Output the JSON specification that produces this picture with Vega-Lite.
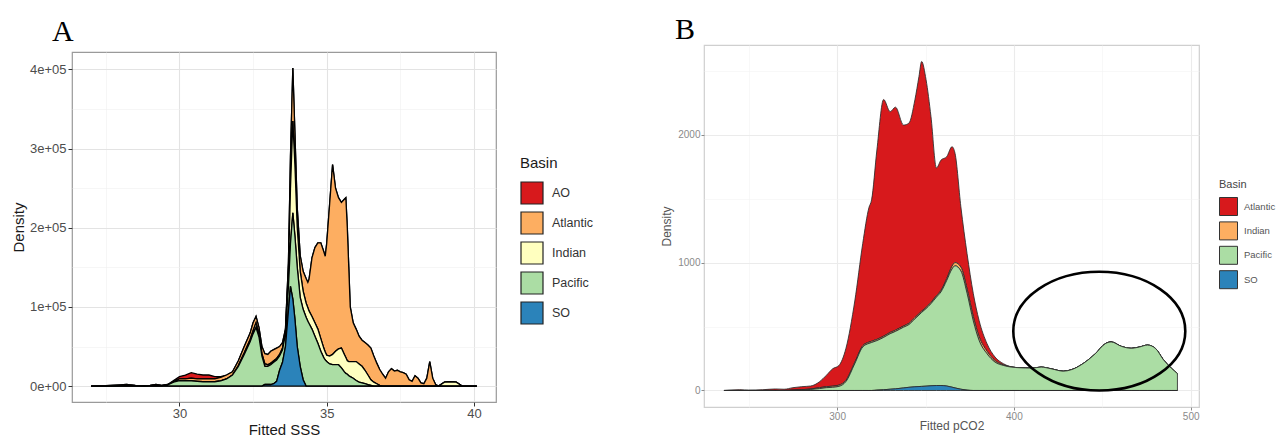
{
  "$schema": "https://vega.github.io/schema/vega-lite/v6.json",
  "background": "white",
  "padding": {"left": 10, "top": 0, "right": 0, "bottom": 0},
  "config": {"font": "Liberation Sans", "view": {"stroke": null}},
  "spacing": 66,
  "resolve": {"scale": {"x": "independent", "y": "independent", "color": "independent"}, "legend": {"color": "independent"}},
  "hconcat": [
    {
      "spacing": 0,
      "resolve": {"scale": {"x": "independent", "y": "independent", "color": "independent"}, "legend": {"color": "independent"}},
      "vconcat": [
        {"width": 1, "height": 16, "view": {"fill": "white", "stroke": null}, "data": {"values": []}, "mark": "rule", "encoding": {}},
        {
          "width": 424,
          "height": 350,
          "view": {"stroke": "#9a9a9a", "strokeWidth": 1.2},
          "title": {"text": "A", "anchor": "start", "frame": "group", "font": "Liberation Serif", "fontSize": 30, "fontWeight": "normal", "color": "#000000", "baseline": "alphabetic", "offset": 0, "dy": 19, "dx": -20},
          "data": {"values": [
            {"SSS":27.0,"AO":0,"Atlantic":0,"Indian":0,"Pacific":0,"SO":0},
            {"SSS":27.5,"AO":0,"Atlantic":500,"Indian":0,"Pacific":0,"SO":0},
            {"SSS":28.0,"AO":0,"Atlantic":1000,"Indian":0,"Pacific":500,"SO":0},
            {"SSS":28.2,"AO":0,"Atlantic":1500,"Indian":0,"Pacific":500,"SO":0},
            {"SSS":28.5,"AO":0,"Atlantic":500,"Indian":0,"Pacific":500,"SO":0},
            {"SSS":28.8,"AO":0,"Atlantic":500,"Indian":0,"Pacific":0,"SO":0},
            {"SSS":29.0,"AO":0,"Atlantic":500,"Indian":0,"Pacific":500,"SO":0},
            {"SSS":29.2,"AO":0,"Atlantic":1000,"Indian":0,"Pacific":1000,"SO":0},
            {"SSS":29.4,"AO":0,"Atlantic":500,"Indian":0,"Pacific":500,"SO":0},
            {"SSS":29.6,"AO":0,"Atlantic":500,"Indian":0,"Pacific":1500,"SO":0},
            {"SSS":29.8,"AO":1000,"Atlantic":1000,"Indian":0,"Pacific":5000,"SO":0},
            {"SSS":30.0,"AO":3000,"Atlantic":2000,"Indian":0,"Pacific":7000,"SO":0},
            {"SSS":30.2,"AO":5000,"Atlantic":2500,"Indian":0,"Pacific":6500,"SO":0},
            {"SSS":30.4,"AO":7000,"Atlantic":3500,"Indian":0,"Pacific":6500,"SO":0},
            {"SSS":30.6,"AO":6000,"Atlantic":3000,"Indian":0,"Pacific":6000,"SO":0},
            {"SSS":30.8,"AO":5000,"Atlantic":3500,"Indian":0,"Pacific":5500,"SO":0},
            {"SSS":31.0,"AO":5000,"Atlantic":3500,"Indian":0,"Pacific":5500,"SO":0},
            {"SSS":31.2,"AO":3000,"Atlantic":3500,"Indian":0,"Pacific":5500,"SO":0},
            {"SSS":31.4,"AO":1000,"Atlantic":4500,"Indian":0,"Pacific":6500,"SO":0},
            {"SSS":31.6,"AO":0,"Atlantic":5000,"Indian":0,"Pacific":9000,"SO":0},
            {"SSS":31.8,"AO":0,"Atlantic":4000,"Indian":0,"Pacific":14000,"SO":0},
            {"SSS":32.0,"AO":0,"Atlantic":6000,"Indian":1000,"Pacific":25000,"SO":0},
            {"SSS":32.2,"AO":0,"Atlantic":8000,"Indian":2000,"Pacific":40000,"SO":0},
            {"SSS":32.4,"AO":0,"Atlantic":8000,"Indian":3000,"Pacific":56000,"SO":0},
            {"SSS":32.5,"AO":0,"Atlantic":10000,"Indian":4000,"Pacific":66000,"SO":0},
            {"SSS":32.6,"AO":0,"Atlantic":8000,"Indian":6000,"Pacific":74000,"SO":0},
            {"SSS":32.7,"AO":0,"Atlantic":8000,"Indian":4000,"Pacific":62000,"SO":0},
            {"SSS":32.8,"AO":0,"Atlantic":9000,"Indian":3000,"Pacific":38000,"SO":0},
            {"SSS":32.9,"AO":0,"Atlantic":13000,"Indian":3000,"Pacific":23000,"SO":2000},
            {"SSS":33.0,"AO":0,"Atlantic":13000,"Indian":2000,"Pacific":23000,"SO":2000},
            {"SSS":33.1,"AO":0,"Atlantic":15000,"Indian":2000,"Pacific":25000,"SO":2000},
            {"SSS":33.2,"AO":0,"Atlantic":14000,"Indian":2000,"Pacific":27000,"SO":3000},
            {"SSS":33.3,"AO":0,"Atlantic":13000,"Indian":2000,"Pacific":27000,"SO":6000},
            {"SSS":33.4,"AO":0,"Atlantic":10000,"Indian":2000,"Pacific":18000,"SO":20000},
            {"SSS":33.5,"AO":0,"Atlantic":7000,"Indian":2000,"Pacific":16000,"SO":30000},
            {"SSS":33.6,"AO":0,"Atlantic":2000,"Indian":4000,"Pacific":16000,"SO":50000},
            {"SSS":33.7,"AO":0,"Atlantic":10000,"Indian":20000,"Pacific":30000,"SO":95000},
            {"SSS":33.77,"AO":0,"Atlantic":40000,"Indian":70000,"Pacific":54000,"SO":126000},
            {"SSS":33.85,"AO":0,"Atlantic":67000,"Indian":116000,"Pacific":109000,"SO":110000},
            {"SSS":33.92,"AO":0,"Atlantic":40000,"Indian":90000,"Pacific":105000,"SO":85000},
            {"SSS":34.0,"AO":0,"Atlantic":25000,"Indian":50000,"Pacific":100000,"SO":50000},
            {"SSS":34.1,"AO":0,"Atlantic":20000,"Indian":33000,"Pacific":87000,"SO":25000},
            {"SSS":34.2,"AO":0,"Atlantic":25000,"Indian":23000,"Pacific":89000,"SO":8000},
            {"SSS":34.3,"AO":0,"Atlantic":31000,"Indian":18000,"Pacific":87000,"SO":0},
            {"SSS":34.36,"AO":0,"Atlantic":32000,"Indian":17000,"Pacific":82000,"SO":0},
            {"SSS":34.4,"AO":0,"Atlantic":40000,"Indian":16000,"Pacific":79000,"SO":0},
            {"SSS":34.5,"AO":0,"Atlantic":74000,"Indian":16000,"Pacific":72000,"SO":0},
            {"SSS":34.6,"AO":0,"Atlantic":95000,"Indian":17000,"Pacific":63000,"SO":0},
            {"SSS":34.7,"AO":0,"Atlantic":109000,"Indian":18000,"Pacific":54000,"SO":0},
            {"SSS":34.8,"AO":0,"Atlantic":121000,"Indian":16000,"Pacific":44000,"SO":0},
            {"SSS":34.9,"AO":0,"Atlantic":122000,"Indian":12000,"Pacific":36000,"SO":0},
            {"SSS":34.95,"AO":0,"Atlantic":121000,"Indian":10000,"Pacific":33000,"SO":0},
            {"SSS":35.0,"AO":0,"Atlantic":141000,"Indian":8000,"Pacific":31000,"SO":0},
            {"SSS":35.1,"AO":0,"Atlantic":192000,"Indian":10000,"Pacific":28000,"SO":0},
            {"SSS":35.2,"AO":0,"Atlantic":240000,"Indian":13000,"Pacific":27000,"SO":0},
            {"SSS":35.3,"AO":0,"Atlantic":206000,"Indian":17000,"Pacific":27000,"SO":0},
            {"SSS":35.4,"AO":0,"Atlantic":191000,"Indian":20000,"Pacific":27000,"SO":0},
            {"SSS":35.5,"AO":0,"Atlantic":184000,"Indian":25000,"Pacific":23000,"SO":0},
            {"SSS":35.6,"AO":0,"Atlantic":196000,"Indian":22000,"Pacific":18000,"SO":0},
            {"SSS":35.65,"AO":0,"Atlantic":202000,"Indian":20000,"Pacific":16000,"SO":0},
            {"SSS":35.7,"AO":0,"Atlantic":168000,"Indian":17000,"Pacific":15000,"SO":0},
            {"SSS":35.75,"AO":0,"Atlantic":119000,"Indian":18000,"Pacific":13000,"SO":0},
            {"SSS":35.8,"AO":0,"Atlantic":69000,"Indian":19000,"Pacific":12000,"SO":0},
            {"SSS":35.9,"AO":0,"Atlantic":49000,"Indian":21000,"Pacific":10000,"SO":0},
            {"SSS":36.0,"AO":0,"Atlantic":41000,"Indian":24000,"Pacific":7000,"SO":0},
            {"SSS":36.1,"AO":0,"Atlantic":35000,"Indian":23000,"Pacific":5000,"SO":0},
            {"SSS":36.2,"AO":0,"Atlantic":33000,"Indian":21000,"Pacific":4000,"SO":0},
            {"SSS":36.3,"AO":0,"Atlantic":35000,"Indian":17000,"Pacific":3000,"SO":0},
            {"SSS":36.4,"AO":0,"Atlantic":38000,"Indian":12000,"Pacific":2000,"SO":0},
            {"SSS":36.5,"AO":0,"Atlantic":40000,"Indian":7000,"Pacific":1000,"SO":0},
            {"SSS":36.6,"AO":0,"Atlantic":33000,"Indian":5000,"Pacific":0,"SO":0},
            {"SSS":36.7,"AO":0,"Atlantic":26000,"Indian":3000,"Pacific":0,"SO":0},
            {"SSS":36.8,"AO":0,"Atlantic":20000,"Indian":1000,"Pacific":0,"SO":0},
            {"SSS":36.9,"AO":0,"Atlantic":15000,"Indian":0,"Pacific":0,"SO":0},
            {"SSS":37.0,"AO":0,"Atlantic":10000,"Indian":0,"Pacific":0,"SO":0},
            {"SSS":37.1,"AO":0,"Atlantic":18000,"Indian":0,"Pacific":0,"SO":0},
            {"SSS":37.2,"AO":0,"Atlantic":22000,"Indian":0,"Pacific":0,"SO":0},
            {"SSS":37.3,"AO":0,"Atlantic":19000,"Indian":0,"Pacific":0,"SO":0},
            {"SSS":37.4,"AO":0,"Atlantic":20000,"Indian":0,"Pacific":0,"SO":0},
            {"SSS":37.5,"AO":0,"Atlantic":18000,"Indian":0,"Pacific":0,"SO":0},
            {"SSS":37.6,"AO":0,"Atlantic":17000,"Indian":0,"Pacific":0,"SO":0},
            {"SSS":37.7,"AO":0,"Atlantic":15000,"Indian":0,"Pacific":0,"SO":0},
            {"SSS":37.8,"AO":0,"Atlantic":8000,"Indian":0,"Pacific":0,"SO":0},
            {"SSS":37.9,"AO":0,"Atlantic":6000,"Indian":0,"Pacific":0,"SO":0},
            {"SSS":38.0,"AO":0,"Atlantic":13000,"Indian":0,"Pacific":0,"SO":0},
            {"SSS":38.1,"AO":0,"Atlantic":10000,"Indian":0,"Pacific":0,"SO":0},
            {"SSS":38.2,"AO":0,"Atlantic":4000,"Indian":0,"Pacific":0,"SO":0},
            {"SSS":38.3,"AO":0,"Atlantic":3000,"Indian":0,"Pacific":0,"SO":0},
            {"SSS":38.4,"AO":0,"Atlantic":10000,"Indian":0,"Pacific":0,"SO":0},
            {"SSS":38.5,"AO":0,"Atlantic":31000,"Indian":0,"Pacific":0,"SO":0},
            {"SSS":38.6,"AO":0,"Atlantic":10000,"Indian":0,"Pacific":0,"SO":0},
            {"SSS":38.7,"AO":0,"Atlantic":2000,"Indian":0,"Pacific":0,"SO":0},
            {"SSS":38.8,"AO":0,"Atlantic":0,"Indian":0,"Pacific":0,"SO":0},
            {"SSS":39.0,"AO":0,"Atlantic":0,"Indian":5000,"Pacific":0,"SO":0},
            {"SSS":39.2,"AO":0,"Atlantic":0,"Indian":5500,"Pacific":0,"SO":0},
            {"SSS":39.4,"AO":0,"Atlantic":0,"Indian":5000,"Pacific":0,"SO":0},
            {"SSS":39.6,"AO":0,"Atlantic":0,"Indian":0,"Pacific":0,"SO":0},
            {"SSS":40.1,"AO":0,"Atlantic":0,"Indian":0,"Pacific":0,"SO":0}
          ]},
          "transform": [{"fold": ["AO", "Atlantic", "Indian", "Pacific", "SO"], "as": ["Basin", "Density"]}],
          "mark": {"type": "area", "stroke": "#000000", "strokeWidth": 1.3, "interpolate": "linear"},
          "encoding": {
            "x": {
              "field": "SSS", "type": "quantitative",
              "scale": {"domain": [26.35, 40.75], "nice": false, "zero": false},
              "axis": {
                "title": "Fitted SSS", "values": [27.5, 30, 32.5, 35, 37.5, 40],
                "labelExpr": "datum.value % 5 == 0 ? format(datum.value, 'd') : ''",
                "domain": false, "tickColor": "#333333", "tickSize": 4, "tickWidth": 1,
                "tickOpacity": {"condition": {"test": "datum.value % 5 == 0", "value": 1}, "value": 0},
                "labelFontSize": 13, "labelColor": "#4d4d4d", "labelPadding": 1,
                "titleFontSize": 15, "titleColor": "#1a1a1a", "titleFontWeight": "normal", "titlePadding": 2,
                "gridColor": {"condition": {"test": "datum.value % 5 == 0", "value": "#e3e3e3"}, "value": "#f0f0f0"},
                "gridWidth": {"condition": {"test": "datum.value % 5 == 0", "value": 1.1}, "value": 0.6}
              }
            },
            "y": {
              "field": "Density", "type": "quantitative",
              "scale": {"domain": [-20100, 422100], "nice": false, "zero": false},
              "axis": {
                "title": "Density", "values": [0, 50000, 100000, 150000, 200000, 250000, 300000, 350000, 400000],
                "labelExpr": "datum.value % 100000 == 0 ? replace(format(datum.value, '.0e'), 'e+', 'e+0') : ''",
                "domain": false, "tickColor": "#333333", "tickSize": 4, "tickWidth": 1,
                "tickOpacity": {"condition": {"test": "datum.value % 100000 == 0", "value": 1}, "value": 0},
                "labelFontSize": 13, "labelColor": "#4d4d4d", "labelPadding": 2,
                "titleFontSize": 15, "titleColor": "#1a1a1a", "titleFontWeight": "normal", "titlePadding": 3,
                "gridColor": {"condition": {"test": "datum.value % 100000 == 0", "value": "#e3e3e3"}, "value": "#f0f0f0"},
                "gridWidth": {"condition": {"test": "datum.value % 100000 == 0", "value": 1.1}, "value": 0.6}
              }
            },
            "color": {
              "field": "Basin", "type": "nominal",
              "scale": {"domain": ["AO", "Atlantic", "Indian", "Pacific", "SO"], "range": ["#D7191C", "#FDAE61", "#FFFFBF", "#ABDDA4", "#2B83BA"]},
              "legend": {
                "orient": "none", "legendX": 448, "legendY": 104, "padding": 0,
                "title": "Basin", "titleFontSize": 15, "titleFontWeight": "normal", "titleColor": "#1a1a1a", "titlePadding": 10,
                "labelFontSize": 12.5, "labelColor": "#333333", "labelOffset": 8,
                "symbolType": "square", "symbolSize": 484, "symbolStrokeColor": "#222222", "symbolStrokeWidth": 1.2, "symbolOpacity": 1,
                "rowPadding": 2
              }
            },
            "order": {"field": "Basin", "type": "ordinal", "sort": "descending"}
          }
        }
      ]
    },
    {
      "spacing": 0,
      "resolve": {"scale": {"x": "independent", "y": "independent", "color": "independent"}, "legend": {"color": "independent"}},
      "vconcat": [
        {"width": 1, "height": 13.5, "view": {"fill": "white", "stroke": null}, "data": {"values": []}, "mark": "rule", "encoding": {}},
        {
          "width": 495,
          "height": 362,
          "view": {"stroke": "#cfcfcf", "strokeWidth": 1.2},
          "title": {"text": "B", "anchor": "start", "frame": "group", "font": "Liberation Serif", "fontSize": 30, "fontWeight": "normal", "color": "#000000", "baseline": "alphabetic", "offset": 0, "dy": 23.7, "dx": -29},
          "encoding": {
            "x": {
              "field": "pCO2", "type": "quantitative",
              "scale": {"domain": [224.7, 504.7], "nice": false, "zero": false},
              "axis": {
                "title": "Fitted pCO2", "values": [250, 300, 350, 400, 450, 500],
                "labelExpr": "datum.value % 100 == 0 ? format(datum.value, 'd') : ''",
                "domain": false, "tickColor": "#8a8a8a", "tickSize": 3, "tickWidth": 1,
                "tickOpacity": {"condition": {"test": "datum.value % 100 == 0", "value": 1}, "value": 0},
                "labelFontSize": 10, "labelColor": "#8a8a8a", "labelPadding": 1,
                "titleFontSize": 12, "titleColor": "#555555", "titleFontWeight": "normal", "titlePadding": -1,
                "gridColor": {"condition": {"test": "datum.value % 100 == 0", "value": "#ebebeb"}, "value": "#f4f4f4"},
                "gridWidth": {"condition": {"test": "datum.value % 100 == 0", "value": 1.1}, "value": 0.6}
              }
            },
            "y": {
              "field": "Density", "type": "quantitative",
              "scale": {"domain": [-129, 2701], "nice": false, "zero": false},
              "axis": {
                "title": "Density", "values": [0, 500, 1000, 1500, 2000, 2500],
                "labelExpr": "datum.value % 1000 == 0 ? format(datum.value, 'd') : ''",
                "domain": false, "tickColor": "#8a8a8a", "tickSize": 3, "tickWidth": 1,
                "tickOpacity": {"condition": {"test": "datum.value % 1000 == 0", "value": 1}, "value": 0},
                "labelFontSize": 10, "labelColor": "#8a8a8a", "labelPadding": 1,
                "titleFontSize": 12, "titleColor": "#555555", "titleFontWeight": "normal", "titlePadding": 4,
                "gridColor": {"condition": {"test": "datum.value % 1000 == 0", "value": "#ebebeb"}, "value": "#f4f4f4"},
                "gridWidth": {"condition": {"test": "datum.value % 1000 == 0", "value": 1.1}, "value": 0.6}
              }
            }
          },
          "layer": [
            {
              "data": {"values": [
                {"pCO2":236,"Atlantic":0,"Indian":0,"Pacific":0,"SO":0},
                {"pCO2":245,"Atlantic":6,"Indian":0,"Pacific":0,"SO":0},
                {"pCO2":250,"Atlantic":3,"Indian":0,"Pacific":0,"SO":0},
                {"pCO2":258,"Atlantic":6,"Indian":0,"Pacific":0,"SO":0},
                {"pCO2":265,"Atlantic":12,"Indian":0,"Pacific":0,"SO":0},
                {"pCO2":270,"Atlantic":10,"Indian":0,"Pacific":0,"SO":0},
                {"pCO2":275,"Atlantic":19,"Indian":1,"Pacific":2,"SO":0},
                {"pCO2":280,"Atlantic":24,"Indian":2,"Pacific":4,"SO":0},
                {"pCO2":285,"Atlantic":23,"Indian":4,"Pacific":8,"SO":0},
                {"pCO2":290,"Atlantic":46,"Indian":7,"Pacific":15,"SO":0},
                {"pCO2":294,"Atlantic":90,"Indian":8,"Pacific":22,"SO":0},
                {"pCO2":297.5,"Atlantic":136,"Indian":9,"Pacific":25,"SO":0},
                {"pCO2":301,"Atlantic":153,"Indian":10,"Pacific":32,"SO":0},
                {"pCO2":305,"Atlantic":250,"Indian":10,"Pacific":70,"SO":0},
                {"pCO2":310,"Atlantic":480,"Indian":10,"Pacific":210,"SO":0},
                {"pCO2":314.5,"Atlantic":800,"Indian":10,"Pacific":340,"SO":0},
                {"pCO2":318,"Atlantic":1052,"Indian":10,"Pacific":368,"SO":0},
                {"pCO2":319.5,"Atlantic":1105,"Indian":10,"Pacific":375,"SO":0},
                {"pCO2":322.5,"Atlantic":1480,"Indian":10,"Pacific":387,"SO":3},
                {"pCO2":326.3,"Atlantic":1850,"Indian":10,"Pacific":409,"SO":6},
                {"pCO2":330,"Atlantic":1726,"Indian":10,"Pacific":434,"SO":10},
                {"pCO2":333,"Atlantic":1743,"Indian":10,"Pacific":449,"SO":13},
                {"pCO2":337.6,"Atlantic":1570,"Indian":10,"Pacific":475,"SO":20},
                {"pCO2":340.6,"Atlantic":1565,"Indian":10,"Pacific":490,"SO":25},
                {"pCO2":344,"Atlantic":1702,"Indian":10,"Pacific":531,"SO":29},
                {"pCO2":346.3,"Atlantic":1855,"Indian":10,"Pacific":559,"SO":31},
                {"pCO2":347.8,"Atlantic":1952,"Indian":10,"Pacific":578,"SO":32},
                {"pCO2":350.3,"Atlantic":1780,"Indian":10,"Pacific":606,"SO":34},
                {"pCO2":353.1,"Atlantic":1451,"Indian":10,"Pacific":642,"SO":37},
                {"pCO2":356.2,"Atlantic":999,"Indian":11,"Pacific":691,"SO":39},
                {"pCO2":358.7,"Atlantic":1018,"Indian":12,"Pacific":731,"SO":39},
                {"pCO2":362,"Atlantic":953,"Indian":15,"Pacific":825,"SO":35},
                {"pCO2":365,"Atlantic":934,"Indian":22,"Pacific":924,"SO":26},
                {"pCO2":366.7,"Atlantic":854,"Indian":25,"Pacific":955,"SO":20},
                {"pCO2":370,"Atlantic":471,"Indian":30,"Pacific":925,"SO":10},
                {"pCO2":373.5,"Atlantic":275,"Indian":35,"Pacific":757,"SO":3},
                {"pCO2":377,"Atlantic":180,"Indian":35,"Pacific":545,"SO":0},
                {"pCO2":380.3,"Atlantic":126,"Indian":30,"Pacific":392,"SO":0},
                {"pCO2":384.8,"Atlantic":59,"Indian":20,"Pacific":287,"SO":0},
                {"pCO2":389.3,"Atlantic":28,"Indian":12,"Pacific":222,"SO":0},
                {"pCO2":394,"Atlantic":9,"Indian":5,"Pacific":196,"SO":0},
                {"pCO2":398.4,"Atlantic":0,"Indian":2,"Pacific":183,"SO":0},
                {"pCO2":403,"Atlantic":0,"Indian":0,"Pacific":178,"SO":0},
                {"pCO2":410,"Atlantic":0,"Indian":0,"Pacific":175,"SO":0},
                {"pCO2":415.4,"Atlantic":0,"Indian":0,"Pacific":183,"SO":0},
                {"pCO2":421,"Atlantic":0,"Indian":0,"Pacific":170,"SO":0},
                {"pCO2":428,"Atlantic":0,"Indian":0,"Pacific":151,"SO":0},
                {"pCO2":432.4,"Atlantic":0,"Indian":0,"Pacific":162,"SO":0},
                {"pCO2":439,"Atlantic":0,"Indian":0,"Pacific":209,"SO":0},
                {"pCO2":446,"Atlantic":0,"Indian":0,"Pacific":287,"SO":0},
                {"pCO2":451.7,"Atlantic":0,"Indian":0,"Pacific":366,"SO":0},
                {"pCO2":455,"Atlantic":0,"Indian":0,"Pacific":380,"SO":0},
                {"pCO2":460.8,"Atlantic":0,"Indian":0,"Pacific":345,"SO":0},
                {"pCO2":466.4,"Atlantic":0,"Indian":0,"Pacific":330,"SO":0},
                {"pCO2":471,"Atlantic":0,"Indian":0,"Pacific":340,"SO":0},
                {"pCO2":475.5,"Atlantic":0,"Indian":0,"Pacific":355,"SO":0},
                {"pCO2":480,"Atlantic":0,"Indian":0,"Pacific":330,"SO":0},
                {"pCO2":484.6,"Atlantic":0,"Indian":0,"Pacific":240,"SO":0},
                {"pCO2":489,"Atlantic":0,"Indian":0,"Pacific":175,"SO":0},
                {"pCO2":492.5,"Atlantic":0,"Indian":0,"Pacific":132,"SO":0}
              ]},
              "transform": [{"fold": ["Atlantic", "Indian", "Pacific", "SO"], "as": ["Basin", "Density"]}],
              "mark": {"type": "area", "stroke": "#2b2b2b", "strokeWidth": 1, "strokeOpacity": 0.85, "interpolate": "monotone"},
              "encoding": {
                "color": {
                  "field": "Basin", "type": "nominal",
                  "scale": {"domain": ["Atlantic", "Indian", "Pacific", "SO"], "range": ["#D7191C", "#FDAE61", "#ABDDA4", "#2B83BA"]},
                  "legend": {
                    "orient": "none", "legendX": 515, "legendY": 134, "padding": 0,
                    "title": "Basin", "titleFontSize": 11, "titleFontWeight": "normal", "titleColor": "#444444", "titlePadding": 7,
                    "labelFontSize": 9.5, "labelColor": "#555555", "labelOffset": 6,
                    "symbolType": "square", "symbolSize": 324, "symbolStrokeColor": "#333333", "symbolStrokeWidth": 1, "symbolOpacity": 1,
                    "rowPadding": 1.4
                  }
                },
                "order": {"field": "Basin", "type": "ordinal", "sort": "descending"}
              }
            },
            {
              "data": {"values": [{"pCO2": 448.3, "Density": 464}]},
              "mark": {"type": "point", "shape": "M-1,0A1,0.69,0,1,1,1,0A1,0.69,0,1,1,-1,0Z", "size": 29584, "filled": false, "stroke": "#000000", "strokeWidth": 2.6, "opacity": 1}
            }
          ]
        }
      ]
    }
  ]
}
